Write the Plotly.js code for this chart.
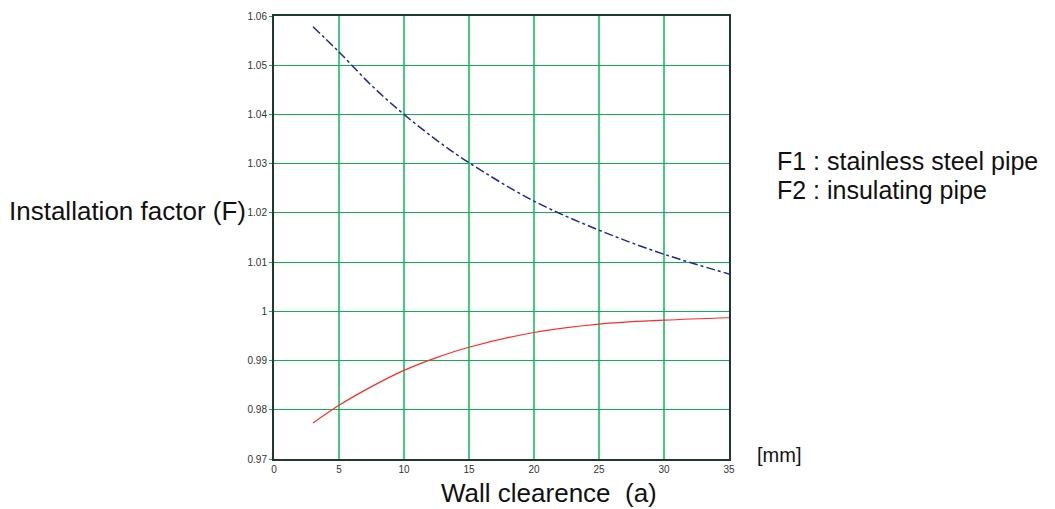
<!DOCTYPE html>
<html>
<head>
<meta charset="utf-8">
<script src="https://cdn.plot.ly/plotly-3.0.1.min.js"></script>
<style>html,body{margin:0;padding:0;background:#fff;}#chart{width:1055px;height:509px;}</style>
</head>
<body>
<div id="chart"></div>
<script>
const f1X = [3.0, 5, 7.5, 10, 12.5, 15, 20, 25, 30, 35];
const f1Y = [1.0578, 1.0527, 1.0459, 1.0400, 1.0348, 1.0302, 1.0224, 1.0165, 1.0116, 1.0076];
const f2X = [3.0, 5, 7.5, 10, 12.5, 15, 20, 25, 30, 35];
const f2Y = [0.9773, 0.9809, 0.9847, 0.9880, 0.9906, 0.9927, 0.9957, 0.9974, 0.9982, 0.9987];
const yTickVals = [0.97, 0.98, 0.99, 1.0, 1.01, 1.02, 1.03, 1.04, 1.05, 1.06];
const yTickText = ["0.97", "0.98", "0.99", "1", "1.01", "1.02", "1.03", "1.04", "1.05", "1.06"];
const xTickVals = [0, 5, 10, 15, 20, 25, 30, 35];
const legendLines = ["F1 : stainless steel pipe", "F2 : insulating pipe"];

const font = "Liberation Sans, Arial, sans-serif";

const traces = [
  {x: f1X, y: f1Y, mode: "lines", line: {color: "#1f2a8c", width: 1.5, dash: "dashdot", shape: "spline", smoothing: 1}, hoverinfo: "none"},
  {x: f2X, y: f2Y, mode: "lines", line: {color: "#ff2a2a", width: 1.2, shape: "spline", smoothing: 1}, hoverinfo: "none"}
];

const layout = {
  width: 1055, height: 509,
  margin: {l: 274, r: 326, t: 16, b: 50},
  paper_bgcolor: "#fff", plot_bgcolor: "#fff",
  showlegend: false,
  font: {family: font, color: "#222"},
  xaxis: {
    range: [0, 35], tickvals: xTickVals, showgrid: true, gridcolor: "#45cc80", gridwidth: 1.5,
    zeroline: false, showline: true, linecolor: "#1e3a2a", linewidth: 2, mirror: true,
    ticks: "", tickfont: {size: 10, color: "#333", family: font}, fixedrange: true
  },
  yaxis: {
    range: [0.97, 1.06], tickvals: yTickVals, ticktext: yTickText, showgrid: true, gridcolor: "#10b050", gridwidth: 1.2,
    zeroline: false, showline: true, linecolor: "#1e3a2a", linewidth: 2, mirror: true,
    ticks: "outside", ticklen: 3, tickcolor: "#10b050", tickfont: {size: 10, color: "#333", family: font}, fixedrange: true
  },
  annotations: [
    {text: "Installation factor (F)", xref: "paper", yref: "paper", x: -0.058, y: 0.56, xanchor: "right", yanchor: "middle", showarrow: false, font: {size: 26, color: "#111", family: font}},
    {text: "Wall clearence  (a)", xref: "paper", yref: "paper", x: 0.604, y: -0.077, xanchor: "center", yanchor: "middle", showarrow: false, font: {size: 26, color: "#111", family: font}},
    {text: "[mm]", xref: "paper", yref: "paper", x: 1.057, y: 0.009, xanchor: "left", yanchor: "middle", showarrow: false, font: {size: 20, color: "#111", family: font}},
    {text: legendLines[0], xref: "paper", yref: "paper", x: 1.1, y: 0.673, xanchor: "left", yanchor: "middle", showarrow: false, font: {size: 25, color: "#111", family: font}},
    {text: legendLines[1], xref: "paper", yref: "paper", x: 1.1, y: 0.607, xanchor: "left", yanchor: "middle", showarrow: false, font: {size: 25, color: "#111", family: font}}
  ]
};

Plotly.newPlot("chart", traces, layout, {staticPlot: true, displayModeBar: false});
</script>
</body>
</html>
